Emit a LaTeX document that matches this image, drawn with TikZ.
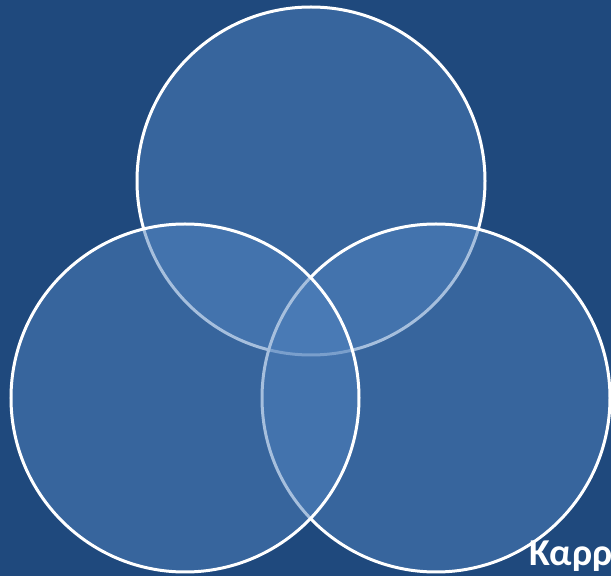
\documentclass[tikz,border=0pt]{standalone}
\usepackage{fontspec}
\setmainfont{Carlito}
\definecolor{bgblue}{HTML}{1F497D}
\definecolor{fillblue}{HTML}{4F81BD}
\tikzset{
  venn/.style={draw=white, line width=3pt, fill=fillblue, fill opacity=0.5, draw opacity=1},
}
\begin{document}
\begin{tikzpicture}[x=1pt,y=1pt]
\useasboundingbox (0,0) rectangle (611,576);
\clip (0,0) rectangle (611,576);
\fill[bgblue] (0,0) rectangle (611,576);
\node[venn, circle, minimum size=348pt, inner sep=0pt] (top) at (311,395) {};
\node[venn, circle, minimum size=348pt, inner sep=0pt] (right) at (436,178) {};
\node[venn, circle, minimum size=348pt, inner sep=0pt] (left) at (185,178) {};
\node[anchor=base west, inner sep=0pt, text=white, font=\bfseries\fontsize{38}{46}\selectfont] (label) at (529,10) {Καρρ};
\end{tikzpicture}
\end{document}
